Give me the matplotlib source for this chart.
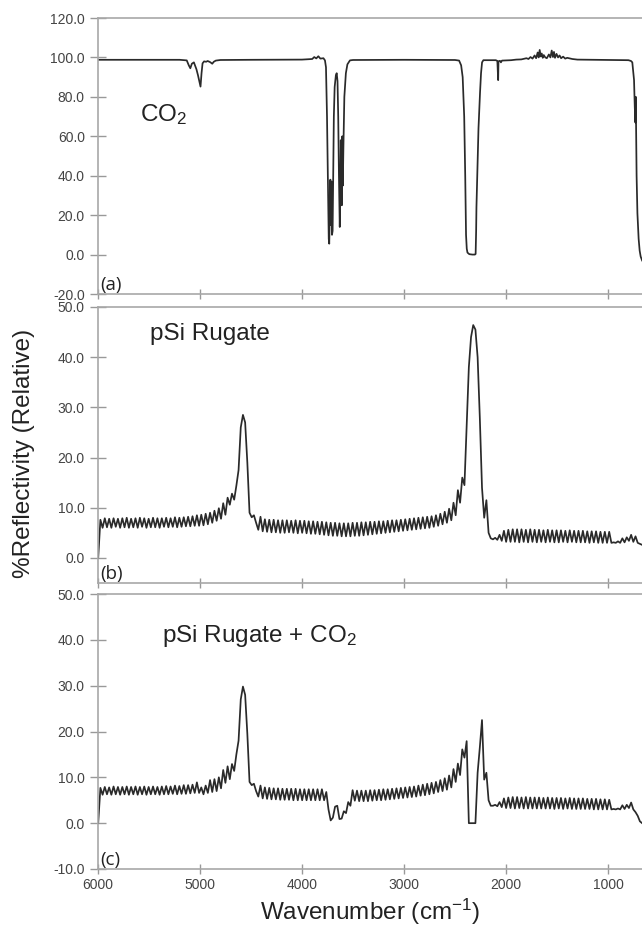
import numpy as np
import matplotlib
matplotlib.use("Agg")
import matplotlib.pyplot as plt
from matplotlib.ticker import FormatStrFormatter

plt.rcParams['font.family'] = ['Liberation Sans', 'DejaVu Sans']
plt.rcParams['mathtext.fontset'] = 'custom'
plt.rcParams['mathtext.rm'] = 'Liberation Sans'
plt.rcParams['mathtext.default'] = 'regular'

# ---- (a) CO2 gas spectrum: wavenumber / %
wn_a = [6000, 5500, 5200, 5130, 5110, 5095, 5080, 5060, 5035, 5020, 5005, 4995,
        4985, 4975, 4960, 4940, 4925, 4900, 4880, 4865, 4845, 4800, 4500, 4000,
        3900, 3880, 3860, 3840, 3820, 3790, 3775, 3765, 3755, 3745, 3738, 3733,
        3728, 3722, 3718, 3712, 3706, 3700, 3694, 3688, 3680, 3668, 3660, 3652,
        3645, 3638, 3630, 3625, 3620, 3615, 3610, 3605, 3600, 3594, 3585, 3570,
        3555, 3530, 3500, 3000, 2500, 2460, 2440, 2425, 2410, 2400, 2392, 2385,
        2378, 2360, 2330, 2305, 2298, 2293, 2290, 2280, 2270, 2255, 2245, 2235,
        2222, 2100, 2085, 2080, 2077, 2074, 2060, 2050, 2040, 1950, 1900, 1850,
        1800, 1780, 1760, 1740, 1720, 1705, 1690, 1680, 1670, 1660, 1650, 1640,
        1630, 1615, 1600, 1580, 1565, 1552, 1540, 1530, 1520, 1505, 1490, 1475,
        1460, 1440, 1420, 1400, 1350, 1300, 1000, 800, 775, 762, 752, 745,
        738, 732, 728, 725, 720, 712, 700, 690, 680, 666]
tr_a = [98.8, 98.8, 98.8, 98.5, 96.0, 94.5, 96.8, 97.5, 94.0, 91.0, 87.5, 85.2,
        92.0, 97.0, 98.0, 97.8, 98.2, 97.6, 96.8, 97.8, 98.4, 98.7, 98.8, 98.9,
        99.2, 100.2, 99.5, 100.6, 99.4, 99.6, 98.5, 95.0, 70.0, 35.0, 8.0, 5.5,
        20.0, 38.0, 15.0, 37.0, 10.0, 12.0, 40.0, 70.0, 85.0, 91.0, 92.0, 88.0,
        70.0, 40.0, 14.0, 30.0, 58.0, 40.0, 25.0, 60.0, 35.0, 55.0, 80.0, 92.0,
        96.5, 98.5, 98.7, 98.8, 98.7, 98.4, 96.0, 90.0, 70.0, 40.0, 10.0, 3.0,
        1.0, 0.2, 0.0, 0.0, 0.3, 12.0, 24.0, 45.0, 64.0, 82.0, 92.0, 97.5,
        98.6, 98.6, 98.2, 92.0, 88.5, 98.0, 98.3, 97.5, 98.4, 98.6, 98.9, 99.0,
        99.6, 99.2, 100.2, 99.4, 101.0, 99.6, 102.5, 100.0, 103.8, 100.5, 102.0, 99.8,
        101.2, 100.0, 99.6, 101.5, 100.0, 103.5, 100.2, 102.8, 99.8, 101.8, 100.0, 101.0,
        99.6, 100.4, 99.4, 99.8, 99.2, 98.9, 98.7, 98.6, 98.2, 97.5, 92.0, 88.5,
        75.0, 67.0, 80.0, 66.0, 40.0, 21.0, 8.0, 2.0, -1.0, -3.0]

# ---- (b) and (c): fringe extrema, sampled every 21.5 cm-1 from 5998 cm-1
grid_start = 5998.0
grid_step = 21.5

refl_b = [
    0.0, 7.6, 6.0, 7.9, 6.1, 7.8, 6.0, 7.9, 6.2, 7.8,      # 5998
    6.0, 7.9, 6.1, 8.0, 6.0, 7.8, 6.1, 7.9, 6.0, 8.0,      # 5783
    6.2, 7.9, 6.0, 7.8, 6.1, 8.0, 6.1, 7.9, 6.0, 7.9,      # 5568
    6.2, 8.0, 6.1, 7.9, 6.2, 8.1, 6.1, 8.0, 6.2, 8.1,      # 5353
    6.3, 8.2, 6.3, 8.3, 6.4, 8.5, 6.4, 8.6, 6.5, 8.8,      # 5138
    6.7, 9.0, 7.0, 9.4, 7.4, 9.9, 7.8, 10.9, 8.6, 12.0,    # 4923
    10.6, 12.8, 11.6, 14.4, 17.5, 26.0, 28.5, 27.0, 19.0, 9.0,   # 4708
    8.1, 8.5, 7.0, 5.6, 8.2, 5.3, 7.7, 5.2, 7.6, 5.1,      # 4493
    7.6, 5.1, 7.5, 5.0, 7.5, 5.0, 7.5, 5.1, 7.4, 5.0,      # 4278
    7.5, 4.9, 7.4, 5.0, 7.4, 4.9, 7.3, 4.8, 7.3, 4.8,      # 4063
    7.2, 4.7, 7.2, 4.6, 7.1, 4.5, 7.0, 4.4, 7.0, 4.4,      # 3848
    6.9, 4.3, 6.9, 4.3, 6.9, 4.3, 7.0, 4.4, 7.0, 4.4,      # 3633
    7.1, 4.5, 7.1, 4.6, 7.2, 4.7, 7.2, 4.8, 7.3, 4.9,      # 3418
    7.3, 5.0, 7.4, 5.1, 7.5, 5.2, 7.5, 5.3, 7.6, 5.4,      # 3203
    7.7, 5.5, 7.8, 5.6, 7.9, 5.7, 8.0, 5.8, 8.1, 5.9,      # 2988
    8.2, 6.0, 8.3, 6.2, 8.5, 6.4, 8.8, 6.7, 9.2, 7.0,      # 2773
    9.8, 7.5, 11.0, 8.5, 13.5, 11.0, 16.0, 14.5, 26.0, 38.0,     # 2558
    44.0, 46.4, 45.5, 40.0, 28.0, 14.0, 8.0, 11.5, 5.0, 3.9,     # 2343
    3.7, 4.0, 3.6, 4.6, 3.4, 5.4, 3.2, 5.6, 3.2, 5.7,      # 2128
    3.2, 5.7, 3.1, 5.7, 3.2, 5.6, 3.1, 5.7, 3.2, 5.6,      # 1913
    3.1, 5.6, 3.2, 5.5, 3.1, 5.6, 3.2, 5.5, 3.1, 5.5,      # 1698
    3.1, 5.5, 3.2, 5.4, 3.1, 5.5, 3.2, 5.4, 3.1, 5.4,      # 1483
    3.1, 5.4, 3.1, 5.3, 3.0, 5.3, 3.1, 5.3, 3.0, 5.2,      # 1268
    3.0, 5.2, 3.0, 5.2, 3.0, 3.1, 3.0, 3.3, 3.0, 3.9,      # 1053
    3.1, 4.1, 3.4, 4.6, 3.2, 4.3, 3.0, 2.8, 2.6]           # 838

refl_c = [
    0.0, 7.7, 6.2, 7.9, 6.3, 7.8, 6.2, 8.0, 6.3, 7.9,      # 5998
    6.2, 7.9, 6.3, 8.0, 6.2, 7.9, 6.3, 8.0, 6.2, 7.9,      # 5783
    6.3, 8.0, 6.2, 7.9, 6.3, 8.0, 6.3, 7.9, 6.2, 8.0,      # 5568
    6.3, 8.1, 6.3, 8.0, 6.4, 8.2, 6.3, 8.1, 6.4, 8.3,      # 5353
    6.4, 8.3, 6.5, 8.4, 6.6, 8.9, 6.6, 7.8, 6.3, 8.2,      # 5138
    6.6, 9.4, 6.8, 9.6, 7.0, 10.0, 7.6, 11.6, 8.8, 12.4,   # 4923
    9.6, 12.9, 11.4, 15.0, 18.0, 27.0, 29.8, 28.0, 19.5, 9.0,    # 4708
    8.3, 8.6, 7.0, 5.8, 8.2, 5.4, 7.8, 5.3, 7.7, 5.2,      # 4493
    7.6, 5.2, 7.6, 5.1, 7.5, 5.1, 7.5, 5.1, 7.5, 5.0,      # 4278
    7.5, 5.0, 7.4, 5.0, 7.4, 5.0, 7.4, 5.0, 7.4, 5.0,      # 4063
    7.4, 5.0, 7.4, 5.0, 6.8, 3.0, 0.6, 1.2, 3.6, 3.8,      # 3848
    0.9, 1.0, 2.6, 2.2, 4.6, 3.8, 7.2, 4.9, 7.1, 4.8,      # 3633
    7.1, 4.8, 7.1, 4.8, 7.2, 4.9, 7.2, 5.0, 7.3, 5.0,      # 3418
    7.4, 5.1, 7.4, 5.2, 7.5, 5.3, 7.6, 5.4, 7.7, 5.5,      # 3203
    7.8, 5.6, 7.9, 5.7, 8.0, 5.8, 8.2, 6.0, 8.4, 6.1,      # 2988
    8.6, 6.3, 8.8, 6.5, 9.0, 6.8, 9.4, 7.0, 9.8, 7.3,      # 2773
    10.4, 7.8, 11.8, 9.0, 13.0, 10.5, 16.1, 14.3, 17.9, 0.0,     # 2558
    0.0, 0.0, 0.0, 11.0, 16.5, 22.5, 9.5, 11.0, 5.0, 3.8,  # 2343
    3.8, 4.0, 3.7, 4.6, 3.5, 5.4, 3.3, 5.6, 3.3, 5.7,      # 2128
    3.2, 5.7, 3.3, 5.6, 3.2, 5.7, 3.2, 5.6, 3.2, 5.6,      # 1913
    3.2, 5.6, 3.2, 5.5, 3.2, 5.6, 3.2, 5.5, 3.1, 5.5,      # 1698
    3.2, 5.5, 3.1, 5.4, 3.2, 5.5, 3.1, 5.4, 3.1, 5.4,      # 1483
    3.1, 5.4, 3.1, 5.3, 3.1, 5.3, 3.0, 5.3, 3.0, 5.2,      # 1268
    3.0, 5.2, 3.0, 5.1, 3.0, 3.1, 3.0, 3.2, 3.0, 3.9,      # 1053
    3.1, 4.0, 3.3, 4.5, 3.0, 2.4, 1.6, 0.4, 0.0]           # 838

wn_bc = grid_start - grid_step * np.arange(len(refl_b))

panel_texts = [r"CO$_2$", "pSi Rugate", r"pSi Rugate + CO$_2$"]
panel_tags = ["(a)", "(b)", "(c)"]
ylims = [(-20, 120), (-5, 50), (-10, 50)]
ytick_steps = [20, 10, 10]
xticks = [6000, 5000, 4000, 3000, 2000, 1000]

fig = plt.figure(figsize=(6.42, 9.26), dpi=100)
L, W = 98 / 642, 544 / 642
ax_a = fig.add_axes([L, 1 - 294 / 926, W, 276 / 926])
ax_b = fig.add_axes([L, 1 - 583 / 926, W, 276 / 926])
ax_c = fig.add_axes([L, 1 - 869 / 926, W, 275 / 926])
axes = [ax_a, ax_b, ax_c]

line_kw = dict(color='#2a2a2a', lw=1.25, solid_joinstyle='round')
ax_a.plot(wn_a, tr_a, **line_kw)
ax_b.plot(wn_bc, refl_b, **line_kw)
ax_c.plot(wn_bc, refl_c, **line_kw)

text_pos = [(0.077, 0.627), (0.096, 0.880), (0.117, 0.827)]
gray = '#a8a8a8'
for i, ax in enumerate(axes):
    ax.set_xlim(6000, 667)
    ax.set_ylim(*ylims[i])
    lo, hi = ylims[i]
    start = lo if i != 1 else 0
    ax.set_yticks(np.arange(start, hi + 0.1, ytick_steps[i]))
    ax.yaxis.set_major_formatter(FormatStrFormatter('%.1f'))
    ax.set_xticks(xticks)
    ax.spines['right'].set_visible(False)
    for s in ['left', 'top', 'bottom']:
        ax.spines[s].set_color(gray)
        ax.spines[s].set_linewidth(1.2)
    ax.tick_params(axis='y', direction='inout', length=12, width=1.0, color='#999999',
                   labelsize=10, labelcolor='#444444', pad=3.5)
    ax.tick_params(axis='x', direction='inout', length=7, width=1.0, color='#999999',
                   labelsize=10, labelcolor='#444444', pad=3)
    if i < 2:
        ax.tick_params(axis='x', labelbottom=False)
    ax.text(text_pos[i][0], text_pos[i][1], panel_texts[i], transform=ax.transAxes,
            fontsize=17.5, color='#222222', ha='left', va='baseline')
    ax.text(0.004, 0.0, panel_tags[i], transform=ax.transAxes, fontsize=13.5,
            family=['Open Sans', 'DejaVu Sans'], color='#222222', ha='left', va='bottom')

fig.text(24 / 642, 1 - 453 / 926, '%Reflectivity (Relative)', rotation=90,
         fontsize=17.5, color='#222222', ha='center', va='center')
fig.text(370 / 642, 1 - 912 / 926, 'Wavenumber (cm$^{-1}$)', fontsize=17.5,
         color='#222222', ha='center', va='center')

fig.savefig('out.png', dpi=100)
